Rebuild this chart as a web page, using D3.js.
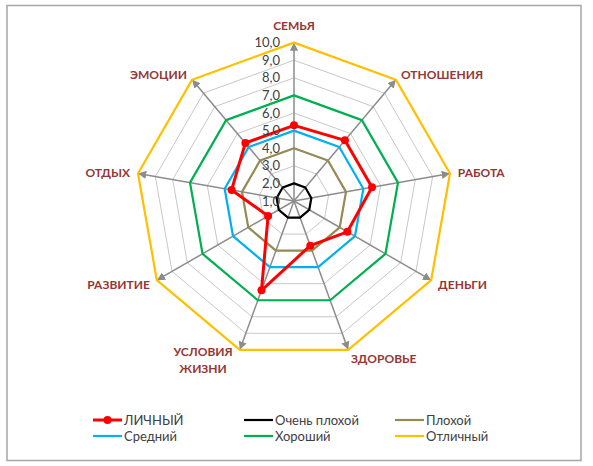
<!DOCTYPE html>
<html>
<head>
<meta charset="utf-8">
<script src="https://cdn.jsdelivr.net/npm/d3@7"></script>
<style>
  body { margin: 0; background: #fff; }
  text { font-family: Lato, "Noto Sans", sans-serif; }
</style>
</head>
<body>
<svg id="radar" width="593" height="466"></svg>
<script>
//------------------- données --------------------------------------------------
var categories = ["СЕМЬЯ", "ОТНОШЕНИЯ", "РАБОТА", "ДЕНЬГИ", "ЗДОРОВЬЕ", "УСЛОВИЯ ЖИЗНИ", "РАЗВИТИЕ", "ОТДЫХ", "ЭМОЦИИ"];
var lichny       = [5.3, 5.5, 5.5, 4.5, 3.7, 6.4, 2.7, 4.6, 5.3];
var ochenPlokhoy = [2, 2, 2, 2, 2, 2, 2, 2, 2];
var plokhoy      = [4, 4, 4, 4, 4, 4, 4, 4, 4];
var sredniy      = [5, 5, 5, 5, 5, 5, 5, 5, 5];
var khoroshiy    = [7, 7, 7, 7, 7, 7, 7, 7, 7];
var otlichny     = [10, 10, 10, 10, 10, 10, 10, 10, 10];
var tickValues   = [1, 2, 3, 4, 5, 6, 7, 8, 9, 10];

var series = [
    {name: "Очень плохой", values: ochenPlokhoy, color: "#000000"},
    {name: "Плохой", values: plokhoy, color: "#948A54"},
    {name: "Средний", values: sredniy, color: "#00B0F0"},
    {name: "Хороший", values: khoroshiy, color: "#00B050"},
    {name: "Отличный", values: otlichny, color: "#FFC000"},
    {name: "ЛИЧНЫЙ", values: lichny, color: "#FF0000", marker: true}
];
var legendOrder = ["ЛИЧНЫЙ", "Очень плохой", "Плохой", "Средний", "Хороший", "Отличный"];

var cx = 294, cy = 201;
var svg = d3.select("#radar");
var r = d3.scaleLinear().domain([1, 10]).range([0, 158.4]);
var angle = d3.scalePoint().domain(d3.range(categories.length + 1)).range([0, 2 * Math.PI]);

function pt(i, v) {
    var a = angle(i);
    return [cx + Math.sin(a) * r(v), cy - Math.cos(a) * r(v)];
}

// cadre
svg.append("rect").attr("x", 7).attr("y", 5.5).attr("width", 574).attr("height", 455)
    .attr("fill", "#fff").attr("stroke", "#a6a6a6").attr("stroke-width", 1.5);

var defs = svg.append("defs");
defs.append("marker").attr("id", "fleche").attr("viewBox", "0 0 10 10")
    .attr("refX", 10).attr("refY", 5).attr("markerWidth", 5.5).attr("markerHeight", 5.5)
    .attr("orient", "auto").attr("markerUnits", "strokeWidth")
    .append("path").attr("d", "M0,0 L10,5 L0,10 Z").attr("fill", "#8c8c8c");

var g = svg.append("g");

//------------------- grille --------------------------------------------------
var ring = d3.line().curve(d3.curveLinearClosed);
g.selectAll(".grille").data(tickValues.slice(1)).enter().append("path")
    .attr("d", function(v) { return ring(categories.map(function(c, i) { return pt(i, v); })); })
    .attr("fill", "none").attr("stroke", "#c8c8c8").attr("stroke-width", 1);

g.selectAll(".axe").data(categories).enter().append("line")
    .attr("x1", cx).attr("y1", cy)
    .attr("x2", function(d, i) { return pt(i, 10)[0]; })
    .attr("y2", function(d, i) { return pt(i, 10)[1]; })
    .attr("stroke", "#8c8c8c").attr("stroke-width", 1.5)
    .attr("marker-end", "url(#fleche)");

//------------------- séries --------------------------------------------------
series.forEach(function(s) {
    var pts = s.values.map(function(v, i) { return pt(i, v); });
    g.append("path").attr("d", ring(pts)).attr("fill", "none")
        .attr("stroke", s.color).attr("stroke-width", s.marker ? 3 : 2.2)
        .attr("stroke-linejoin", "round");
    if (s.marker) {
        g.selectAll(".pt").data(pts).enter().append("circle")
            .attr("cx", function(p) { return p[0]; }).attr("cy", function(p) { return p[1]; })
            .attr("r", 4).attr("fill", s.color);
    }
});

//------------------- étiquettes ----------------------------------------------
g.selectAll(".tick").data(tickValues).enter().append("text")
    .attr("x", cx - 14).attr("y", function(v) { return cy - r(v); })
    .attr("dy", "0.35em").attr("text-anchor", "end")
    .attr("font-size", 13).attr("fill", "#404040")
    .text(function(v) { return d3.format(".1f")(v).replace(".", ","); });

categories.forEach(function(c, i) {
    var a = angle(i), tip = pt(i, 10);
    var sx = Math.sin(a), x = tip[0] + sx * 8, y = tip[1] - Math.cos(a) * 8;
    var anchor = sx > 0.1 ? "start" : (sx < -0.1 ? "end" : "middle");
    if (anchor == "middle") y -= 10;
    var lignes = c.indexOf(" ") > 0 && sx < -0.1 && Math.cos(a) < -0.5 ? c.split(" ") : [c];
    if (lignes.length > 1) { anchor = "middle"; x -= 34; y -= 2; }
    var t = g.append("text").attr("x", x).attr("y", y + 1).attr("text-anchor", anchor)
        .attr("font-size", 12).attr("font-weight", "bold").attr("fill", "#953735");
    lignes.forEach(function(l, k) {
        t.append("tspan").attr("x", x).attr("dy", k == 0 ? (lignes.length > 1 ? "0" : "0.35em") : "1.35em").text(l);
    });
});

//------------------- légende -------------------------------------------------
var leg = svg.append("g").attr("transform", "translate(93,420)");
legendOrder.forEach(function(n, k) {
    var s = series.filter(function(d) { return d.name == n; })[0];
    var item = leg.append("g").attr("transform", "translate(" + (k % 3) * 151 + "," + Math.floor(k / 3) * 16 + ")");
    item.append("line").attr("x1", 0).attr("x2", 29).attr("stroke", s.color)
        .attr("stroke-width", s.marker ? 3 : 2.2);
    if (s.marker) item.append("circle").attr("cx", 14.5).attr("r", 4).attr("fill", s.color);
    item.append("text").attr("x", 31).attr("dy", "0.35em").attr("font-size", 13)
        .attr("fill", "#404040").text(n);
});
</script>
</body>
</html>
